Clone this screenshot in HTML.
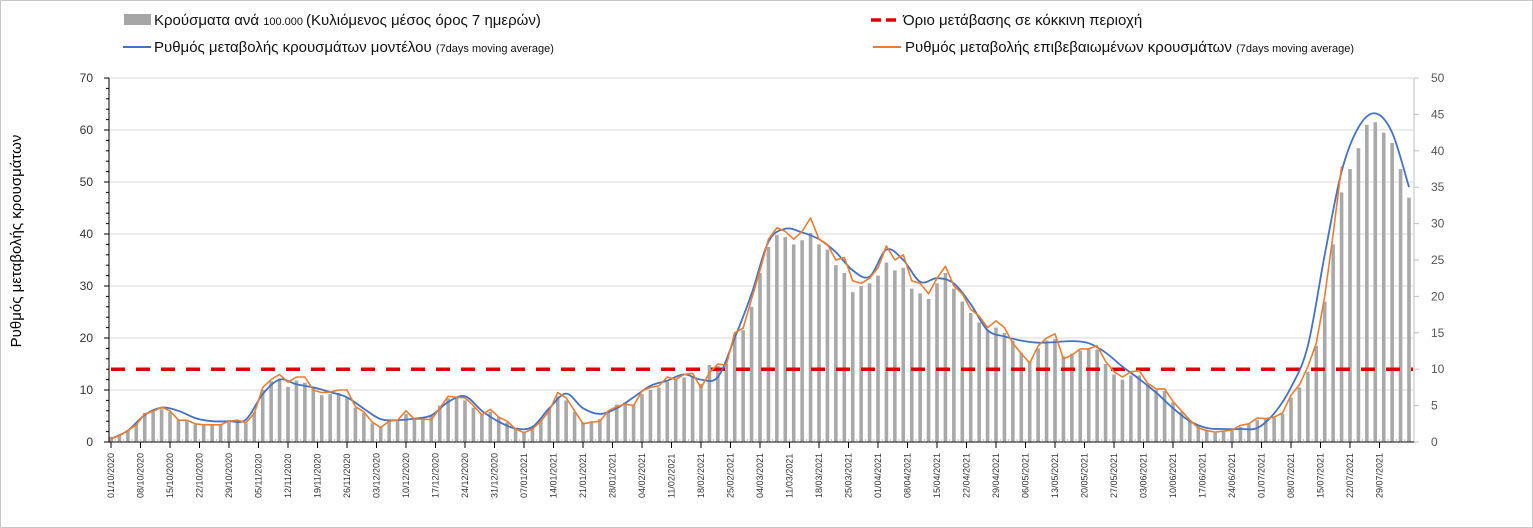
<!DOCTYPE html>
<html><head><meta charset="utf-8">
<style>
html,body{margin:0;padding:0;background:#fff;}
#wrap{position:relative;width:1531px;height:526px;border:1px solid #c8c8c8;overflow:hidden;}
svg{position:absolute;left:0;top:0;}
text{font-family:"Liberation Sans","DejaVu Sans",sans-serif;}
</style></head>
<body>
<div id="wrap">
<svg id="chart" width="1533" height="528"></svg>
</div>
<script>
// ---- data ----
const startDate = [2020, 9, 1]; // 1 Oct 2020
const orangeDays = [0,2,4,6,8,10,12,14,16,18,20,22,24,26,28,30,32,34,36,38,40,42,44,46,48,50,52,54,56,58,60,62,64,66,68,70,72,74,76,78,80,82,84,86,88,90,92,94,96,98,100,102,104,106,108,110,112,114,116,118,120,122,124,126,128,130,132,134,136,138,140,142,144,146,148,150,152,154,156,158,160,162,164,166,168,170,172,174,176,178,180,182,184,186,188,190,192,194,196,198,200,202,204,206,208,210,212,214,216,218,220,222,224,226,228,230,232,234,236,238,240,242,244,246,248,250,252,254,256,258,260,262,264,266,268,270,272,274,276,278,280,282,284,286,288,290,292];
const orangeValues = [0.6,1.2,2.2,3.3,5.4,5.9,6.7,6.0,4.2,4.2,3.5,3.3,3.3,3.3,4.0,4.2,3.7,5.5,10.5,12.0,13.0,11.5,12.5,12.5,10.0,9.5,9.6,10.0,10.0,6.8,5.8,3.8,2.8,4.0,4.2,6.0,4.4,4.4,4.3,6.5,8.8,8.6,8.5,7.0,5.2,6.3,4.8,4.0,2.5,1.8,2.5,4.0,6.0,9.5,8.5,6.0,3.5,3.8,4.0,6.0,6.8,7.3,7.0,9.8,10.5,10.8,12.5,12.0,13.0,13.2,10.4,13.3,15.0,14.8,21.0,21.9,27.5,33.0,39.0,41.2,40.5,39.0,40.5,43.1,39.0,38.0,35.0,35.5,31.0,30.5,31.5,33.5,37.7,35.0,36.0,31.0,30.5,28.5,31.5,33.8,30.0,28.5,25.5,24.2,22.0,23.3,22.0,19.0,17.0,15.2,18.5,20.0,20.8,16.0,16.7,17.9,17.9,18.5,15.5,13.5,12.5,13.5,13.7,11.3,10.2,10.2,7.8,6.0,4.2,2.7,2.2,1.9,2.1,2.3,3.2,3.5,4.6,4.5,4.8,5.6,9.0,11.0,14.5,19.0,28.0,40.0,53.0];
const blueDays = [0,4,8,12,16,20,24,28,32,36,40,44,48,52,56,60,64,68,72,76,80,84,88,92,96,100,104,108,112,116,120,124,128,132,136,140,144,148,152,156,160,164,168,172,176,180,184,188,192,196,200,204,208,212,216,220,224,228,232,236,240,244,248,252,256,260,264,268,272,276,280,284,288,292,296,300,304,308];
const blueValues = [0.6,2.2,5.2,6.6,6.0,4.6,4.0,4.0,4.3,9.2,12.0,11.1,10.5,9.6,8.6,6.4,4.4,4.2,4.5,5.1,7.7,8.8,6.0,3.9,2.6,2.9,6.5,9.3,6.5,5.4,6.5,8.6,10.8,11.8,13.0,12.0,12.5,20.0,28.5,38.5,41.0,40.3,39.0,36.5,33.0,31.8,37.0,35.0,30.8,31.5,30.5,26.5,21.5,20.3,19.5,19.1,19.2,19.4,19.0,17.2,14.5,12.1,9.5,6.5,4.0,2.7,2.5,2.5,2.7,5.5,10.5,18.5,36.0,52.0,60.5,63.2,59.5,49.0];
const barDays = [0,2,4,6,8,10,12,14,16,18,20,22,24,26,28,30,32,34,36,38,40,42,44,46,48,50,52,54,56,58,60,62,64,66,68,70,72,74,76,78,80,82,84,86,88,90,92,94,96,98,100,102,104,106,108,110,112,114,116,118,120,122,124,126,128,130,132,134,136,138,140,142,144,146,148,150,152,154,156,158,160,162,164,166,168,170,172,174,176,178,180,182,184,186,188,190,192,194,196,198,200,202,204,206,208,210,212,214,216,218,220,222,224,226,228,230,232,234,236,238,240,242,244,246,248,250,252,254,256,258,260,262,264,266,268,270,272,274,276,278,280,282,284,286,288,290,292,294,296,298,300,302,304,306,308];
const barValues = [1.0,1.4,2.3,3.5,5.6,5.8,6.3,5.8,4.2,4.0,3.4,3.2,3.2,3.3,3.8,4.0,3.6,5.8,10.0,11.7,12.2,10.6,11.8,11.4,10.6,9.0,9.2,9.4,8.6,6.6,5.6,3.6,2.8,4.0,4.2,5.4,4.5,4.8,5.0,7.0,8.4,8.6,8.0,6.6,5.2,5.8,4.8,3.8,2.6,2.0,2.8,4.2,6.2,8.8,8.0,5.8,3.8,4.0,4.4,5.8,7.2,7.6,7.2,9.2,10.0,10.5,11.6,12.0,12.4,12.6,11.2,14.8,14.6,15.0,20.8,21.5,26.0,32.5,37.5,39.8,39.4,38.0,38.8,40.2,38.0,37.0,34.0,32.5,28.8,30.0,30.5,32.0,34.5,33.0,33.5,29.5,28.6,27.5,30.5,32.5,29.5,27.0,24.8,23.0,21.5,22.0,21.0,19.5,17.2,15.5,18.0,19.5,19.8,16.5,17.0,17.6,17.8,17.8,15.0,13.0,12.0,12.8,12.8,11.0,10.0,9.8,7.6,5.8,4.2,3.0,2.2,1.8,2.0,2.3,2.9,3.4,4.2,4.4,4.7,5.4,8.5,10.5,13.5,18.5,27.0,38.0,48.0,52.5,56.5,61.0,61.5,59.5,57.5,52.5,47.0];
const leftTicks = [0,10,20,30,40,50,60,70];
const rightTicks = [0,5,10,15,20,25,30,35,40,45,50];
const thresholdValue = 14;
const weekCount = 44;

// ---- layout ----
const NS = "http://www.w3.org/2000/svg";
const svg = document.getElementById('chart');
const X0 = 110, DAYPX = 29.5/7, Y0 = 441, YPX = 5.2;
const xScale = d => X0 + d * DAYPX;
const yScale = v => Y0 - v * YPX;
const yRight = v => Y0 - v * YPX * 70 / 50;
function mk(tag, attrs, parent){ const e=document.createElementNS(NS,tag); for(const k in attrs) e.setAttribute(k,attrs[k]); (parent||svg).appendChild(e); return e; }

// gridlines
const grid = mk('g',{});


leftTicks.forEach(v=>{ if(v===0) return;
  const l=mk('line',{x1:108,x2:1412,y1:yScale(v),y2:yScale(v),stroke:'#d9d9d9','stroke-width':1},grid);
  
  
});

// bars
const bars = mk('g',{});


barDays.forEach((d,i)=>{
  const v=barValues[i]; const x=xScale(d);
  const r=mk('rect',{x:x-1.8,y:yScale(v),width:3.6,height:Y0-yScale(v),fill:'#a9a9a9'},bars);
  
  
});

// threshold
const th = mk('line',{x1:110,x2:1412,y1:yScale(thresholdValue),y2:yScale(thresholdValue),stroke:'#e00000','stroke-width':3.5,'stroke-dasharray':'14 11'});



// smooth path
function smoothPath(xs, ys){
  const p = xs.map((d,i)=>[xScale(d), yScale(ys[i])]);
  let s = `M${p[0][0]},${p[0][1]}`;
  for(let i=0;i<p.length-1;i++){
    const p0=p[i-1]||p[i], p1=p[i], p2=p[i+1], p3=p[i+2]||p2;
    const c1=[p1[0]+(p2[0]-p0[0])/6, p1[1]+(p2[1]-p0[1])/6];
    const c2=[p2[0]-(p3[0]-p1[0])/6, p2[1]-(p3[1]-p1[1])/6];
    s+=` C${c1[0]},${c1[1]} ${c2[0]},${c2[1]} ${p2[0]},${p2[1]}`;
  }
  return s;
}
const bl = mk('path',{d:smoothPath(blueDays,blueValues),fill:'none',stroke:'#4472c4','stroke-width':1.8});


const ol = mk('path',{d:orangeDays.map((d,i)=>(i?'L':'M')+xScale(d)+','+yScale(orangeValues[i])).join(' '),fill:'none',stroke:'#ed7d31','stroke-width':1.6,'stroke-linejoin':'round'});



// left axis
const la = mk('g',{});


mk('line',{x1:108,x2:108,y1:77,y2:441,stroke:'#000','stroke-width':1},la);
for(let v=0; v<=70; v+=2){ mk('line',{x1:v%10===0?103:105,x2:108,y1:yScale(v),y2:yScale(v),stroke:'#000','stroke-width':1},la); }
leftTicks.forEach(v=>{
  const t=mk('text',{x:92,y:yScale(v)+4,'text-anchor':'end','font-size':12,fill:'#333'},la);
  t.textContent=v;
  
  
});
const yt = mk('text',{x:0,y:0,transform:'translate(20,240) rotate(-90)','text-anchor':'middle','font-size':15,fill:'#000'});
yt.textContent='Ρυθμός μεταβολής κρουσμάτων';



// right axis
const ra = mk('g',{});


mk('line',{x1:1413,x2:1413,y1:77,y2:441,stroke:'#bfbfbf','stroke-width':1},ra);
rightTicks.forEach(v=>{
  mk('line',{x1:1413,x2:1418,y1:yRight(v),y2:yRight(v),stroke:'#bfbfbf'},ra);
  const t=mk('text',{x:1430,y:yRight(v)+4,'font-size':12,fill:'#555'},ra);
  t.textContent=v;
  
  
});

// x axis
const xa = mk('g',{});


mk('line',{x1:108,x2:1413,y1:441,y2:441,stroke:'#000'},xa);
for(let d=0; d<=308; d++){ mk('line',{x1:xScale(d),x2:xScale(d),y1:438,y2:441,stroke:'#999','stroke-width':0.6},xa); }
for(let w=0; w<weekCount; w++){
  const d=w*7; const x=xScale(d);
  mk('line',{x1:x,x2:x,y1:441,y2:447,stroke:'#000'},xa);
  const dt=new Date(startDate[0],startDate[1],startDate[2]+d);
  const lbl=String(dt.getDate()).padStart(2,'0')+'/'+String(dt.getMonth()+1).padStart(2,'0')+'/'+dt.getFullYear();
  const t=mk('text',{x:0,y:0,transform:`translate(${x+3},497) rotate(-90)`,'font-size':9,fill:'#333'},xa);
  t.textContent=lbl;
  
  
}

// legend
function legText(x,y,parts,name){
  const t=mk('text',{x:x,y:y,fill:'#111'});
  parts.forEach(p=>{ const s=mk('tspan',{'font-size':p[1]},t); s.textContent=p[0]; });
  
  
}
const lg1=mk('rect',{x:123,y:13,width:27,height:11,fill:'#a6a6a6'});


legText(153,24,[['Κρούσματα ανά ',15],['100.000 ',11],['(Κυλιόμενος μέσος όρος 7 ημερών)',15]],'legend-cases-label');
const lg2=mk('line',{x1:122,x2:150,y1:46,y2:46,stroke:'#4472c4','stroke-width':2});


legText(153,51,[['Ρυθμός μεταβολής κρουσμάτων μοντέλου ',15],['(7days moving average)',11]],'legend-model-label');
const lg3=mk('line',{x1:870,x2:898,y1:19,y2:19,stroke:'#e00000','stroke-width':3.5,'stroke-dasharray':'10 5'});


legText(902,24,[['Όριο μετάβασης σε κόκκινη περιοχή',15]],'legend-threshold-label');
const lg4=mk('line',{x1:872,x2:900,y1:46,y2:46,stroke:'#ed7d31','stroke-width':2});


legText(904,51,[['Ρυθμός μεταβολής επιβεβαιωμένων κρουσμάτων ',15],['(7days moving average)',11]],'legend-confirmed-label');
</script>
</body></html>
